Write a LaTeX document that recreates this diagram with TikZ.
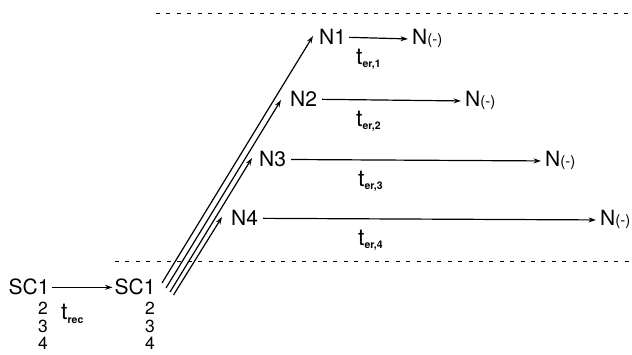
\documentclass[tikz,border=0pt]{standalone}
\usepackage{fontspec}
\setmainfont{TeX Gyre Heros}
\usetikzlibrary{arrows.meta}
\newcommand{\tsub}[1]{{\fontsize{23}{23}\selectfont t}\raisebox{-3pt}{\fontsize{10.5}{10.5}\selectfont\bfseries #1}}
\newcommand{\nminus}{N{\fontsize{15}{15}\selectfont(-)}}
\begin{document}
\begin{tikzpicture}[x=1pt,y=-1pt,
  lbl/.style={inner sep=0pt, font=\fontsize{21}{21}\selectfont},
  dig/.style={inner sep=0pt, text height=12pt, text depth=0pt, font=\fontsize{17.5}{17.5}\selectfont},
  arr/.style={-{Stealth[length=7.5pt,width=5pt]}, line width=1.2pt},
  dashline/.style={line width=1pt, dash pattern=on 4pt off 6.4pt}
]
\useasboundingbox (0,0) rectangle (632,355);

% dashed lines
\coordinate (dtA) at (156,14);
\coordinate (dtB) at (632,14);
\coordinate (dbA) at (115,262);
\coordinate (dbB) at (632,262);
\draw[dashline] (dtA) -- (dtB);
\draw[dashline] (dbA) -- (dbB);

% left SC1 column
\node[lbl, anchor=base west] (sca) at (8.5,295) {SC1};
\node[dig, anchor=base] (sca2) at (43,315) {2};
\node[dig, anchor=base] (sca3) at (43,332.5) {3};
\node[dig, anchor=base] (sca4) at (43,350) {4};

% right SC1 column
\node[lbl, anchor=base west] (scb) at (114.5,295) {SC1};
\node[dig, anchor=base] (scb2) at (150,315) {2};
\node[dig, anchor=base] (scb3) at (150,332.5) {3};
\node[dig, anchor=base] (scb4) at (150,350) {4};

\draw[arr] ([xshift=2pt]sca.east) -- ([xshift=-2pt]scb.west);
\node[lbl, anchor=base west] (trec) at (61,320) {\tsub{rec}};

% N nodes
\node[lbl, anchor=base west] (n1) at (319,45) {N1};
\node[lbl, anchor=base west] (n2) at (290,107) {N2};
\node[lbl, anchor=base west] (n3) at (259,167) {N3};
\node[lbl, anchor=base west] (n4) at (231,226) {N4};

\node[lbl, anchor=base west] (m1) at (412,45) {\nminus};
\node[lbl, anchor=base west] (m2) at (465,107) {\nminus};
\node[lbl, anchor=base west] (m3) at (545,167) {\nminus};
\node[lbl, anchor=base west] (m4) at (600,226) {\nminus};

\draw[arr] ([xshift=3pt]n1.east) -- ([xshift=-4pt]m1.west);
\draw[arr] ([xshift=5pt]n2.east) -- ([xshift=-4pt]m2.west);
\draw[arr] ([xshift=5pt]n3.east) -- ([xshift=-4pt]m3.west);
\draw[arr] ([xshift=5pt]n4.east) -- ([xshift=-4pt]m4.west);

\node[lbl, anchor=base west] (te1) at (356,65) {\tsub{er,1}};
\node[lbl, anchor=base west] (te2) at (356,127) {\tsub{er,2}};
\node[lbl, anchor=base west] (te3) at (358,187) {\tsub{er,3}};
\node[lbl, anchor=base west] (te4) at (358,246) {\tsub{er,4}};

% diagonal arrows
\coordinate (b1) at (162,283);
\coordinate (b2) at (166,288);
\coordinate (b3) at (170,292);
\coordinate (b4) at (173.5,295);
\coordinate (e1) at (313,36);
\coordinate (e2) at (281,100);
\coordinate (e3) at (252,158);
\coordinate (e4) at (222,217);
\draw[arr] (b1) -- (e1);
\draw[arr] (b2) -- (e2);
\draw[arr] (b3) -- (e3);
\draw[arr] (b4) -- (e4);
\end{tikzpicture}
\end{document}
